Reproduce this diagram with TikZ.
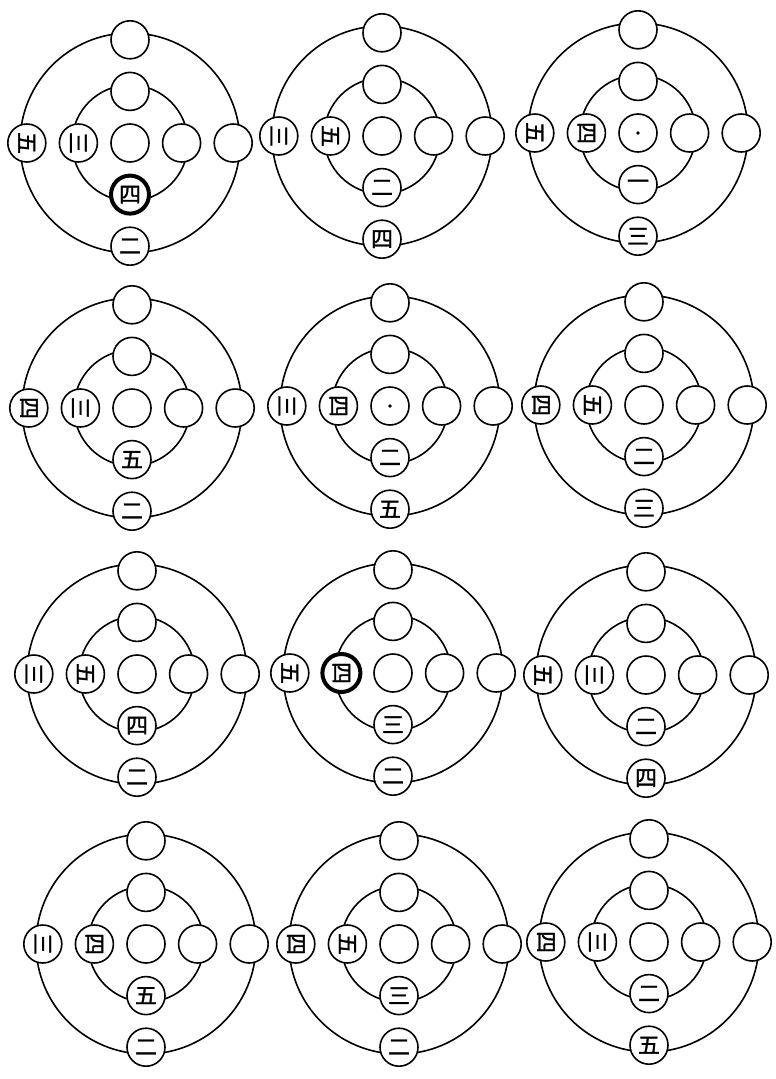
\documentclass[tikz,border=0pt]{standalone}
\usepackage{fontspec}
\usepackage{graphicx}
\newfontfamily\cjk[FakeBold=1.5]{Noto Sans CJK SC}
\usetikzlibrary{positioning, backgrounds}

\begin{document}
\begin{tikzpicture}[
    x=1pt, y=-1pt,
    node distance=12pt,
    stone/.style={
        circle,
        draw=black,
        line width=1.6pt,
        fill=white,
        minimum size=38pt,
        inner sep=0pt,
        font=\cjk\fontsize{22}{22}\selectfont
    },
    ring/.style={
        draw=black,
        line width=1.6pt
    },
    heavy/.style={
        draw=black,
        line width=4pt
    }
]
    \useasboundingbox (0,0) rectangle (776,1079);

    % -- Twelve boards: centre, outer left, inner left, inner bottom, outer bottom --
    \foreach \n/\px/\py/\ol/\il/\ib/\ob in {
        1/130/143/五/三/四/二,
        2/382/136/三/五/二/四,
        3/638/133/五/四/一/三,
        4/132/408/四/三/五/二,
        5/390/406/三/四/二/五,
        6/644/405/四/五/二/三,
        7/137/674/三/五/四/二,
        8/393/673/五/四/三/二,
        9/646/675/五/三/二/四,
        10/146/944/三/四/五/二,
        11/399/944/四/五/三/二,
        12/649/942/四/三/二/五}{
        \node[stone] (c\n) at (\px,\py) {};

        % inner ring
        \node[stone, left=of c\n] (il\n) {\rotatebox{-90}{\il}};
        \node[stone, right=of c\n] (ir\n) {};
        \node[stone, above=of c\n] (it\n) {};
        \node[stone, below=of c\n] (ib\n) {\ib};

        % outer ring
        \node[stone, left=of il\n] (ol\n) {\rotatebox{-90}{\ol}};
        \node[stone, right=of ir\n] (or\n) {};
        \node[stone, above=of it\n] (ot\n) {};
        \node[stone, below=of ib\n] (ob\n) {\ob};

        \begin{scope}[on background layer]
            \draw[ring] (c\n.center) circle[radius=58pt];
            \draw[ring] (c\n.center) circle[radius=110pt];
        \end{scope}
    }

    % Heavily inked stones
    \draw[heavy] (ib1.center) circle[radius=19pt];
    \draw[heavy] (il8.center) circle[radius=19pt];

    % Centre marks
    \fill (c3.center) circle[radius=1.8pt];
    \fill (c5.center) circle[radius=1.8pt];

\end{tikzpicture}
\end{document}
